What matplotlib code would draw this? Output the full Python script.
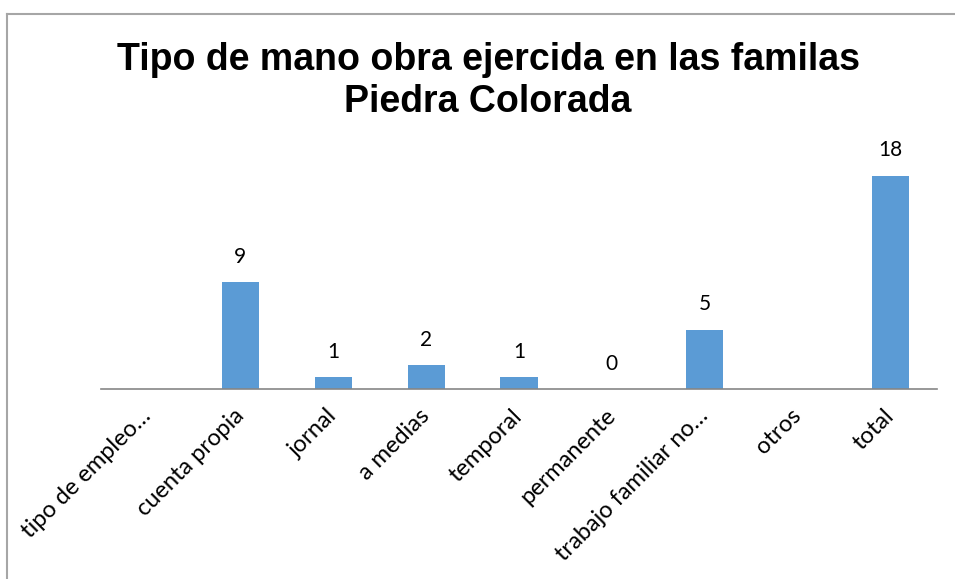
import matplotlib
matplotlib.use("Agg")
import matplotlib.pyplot as plt
from matplotlib.lines import Line2D
import numpy as np

categories = ["tipo de empleo…", "cuenta propia", "jornal", "a medias", "temporal",
              "permanente", "trabajo familiar no…", "otros", "total"]
values = [None, 9, 1, 2, 1, 0, 5, None, 18]

title = "Tipo de mano obra ejercida en las familas\nPiedra Colorada"
bar_color = "#5B9BD5"

W, H = 955, 579
fig = plt.figure(figsize=(W / 100, H / 100), dpi=100)
# chart frame: only the left and top edges are inside the picture
bx, by = 6.5 / W, 1 - 13.5 / H
fig.add_artist(Line2D([bx, bx], [0, by], transform=fig.transFigure,
                      color="#A6A6A6", lw=1.5))
fig.add_artist(Line2D([bx, 1], [by, by], transform=fig.transFigure,
                      color="#A6A6A6", lw=1.5))

ax = fig.add_axes([0.1058, 0.3282, 0.8754, 0.4093])

x = np.arange(len(categories))
heights = [v if v is not None else 0 for v in values]
bars = ax.bar(x, heights, width=0.4, color=bar_color)
for b, v in zip(bars, values):
    if v is None:
        continue
    ax.annotate(str(v), (b.get_x() + b.get_width() / 2, v), xytext=(0, 14),
                textcoords="offset points", ha="center", va="baseline",
                fontsize=15, family="Lato", color="#000000")

ax.set_xlim(-0.5, len(categories) - 0.5)
ax.set_ylim(0, 20)
ax.set_yticks([])
for s in ["top", "right", "left"]:
    ax.spines[s].set_visible(False)
ax.spines["bottom"].set_color("#868686")
ax.spines["bottom"].set_linewidth(1.2)
ax.set_xticks(x)
ax.set_xticklabels(categories, rotation=45, ha="right", va="center",
                   rotation_mode="anchor", fontsize=17, family="Lato")
ax.tick_params(axis="x", length=0, pad=17)

fig.text(0.511, 0.927, title, ha="center", va="top", fontsize=27,
         fontweight="bold", family="Liberation Sans", linespacing=1.2)

fig.savefig("out.png", dpi=100)
